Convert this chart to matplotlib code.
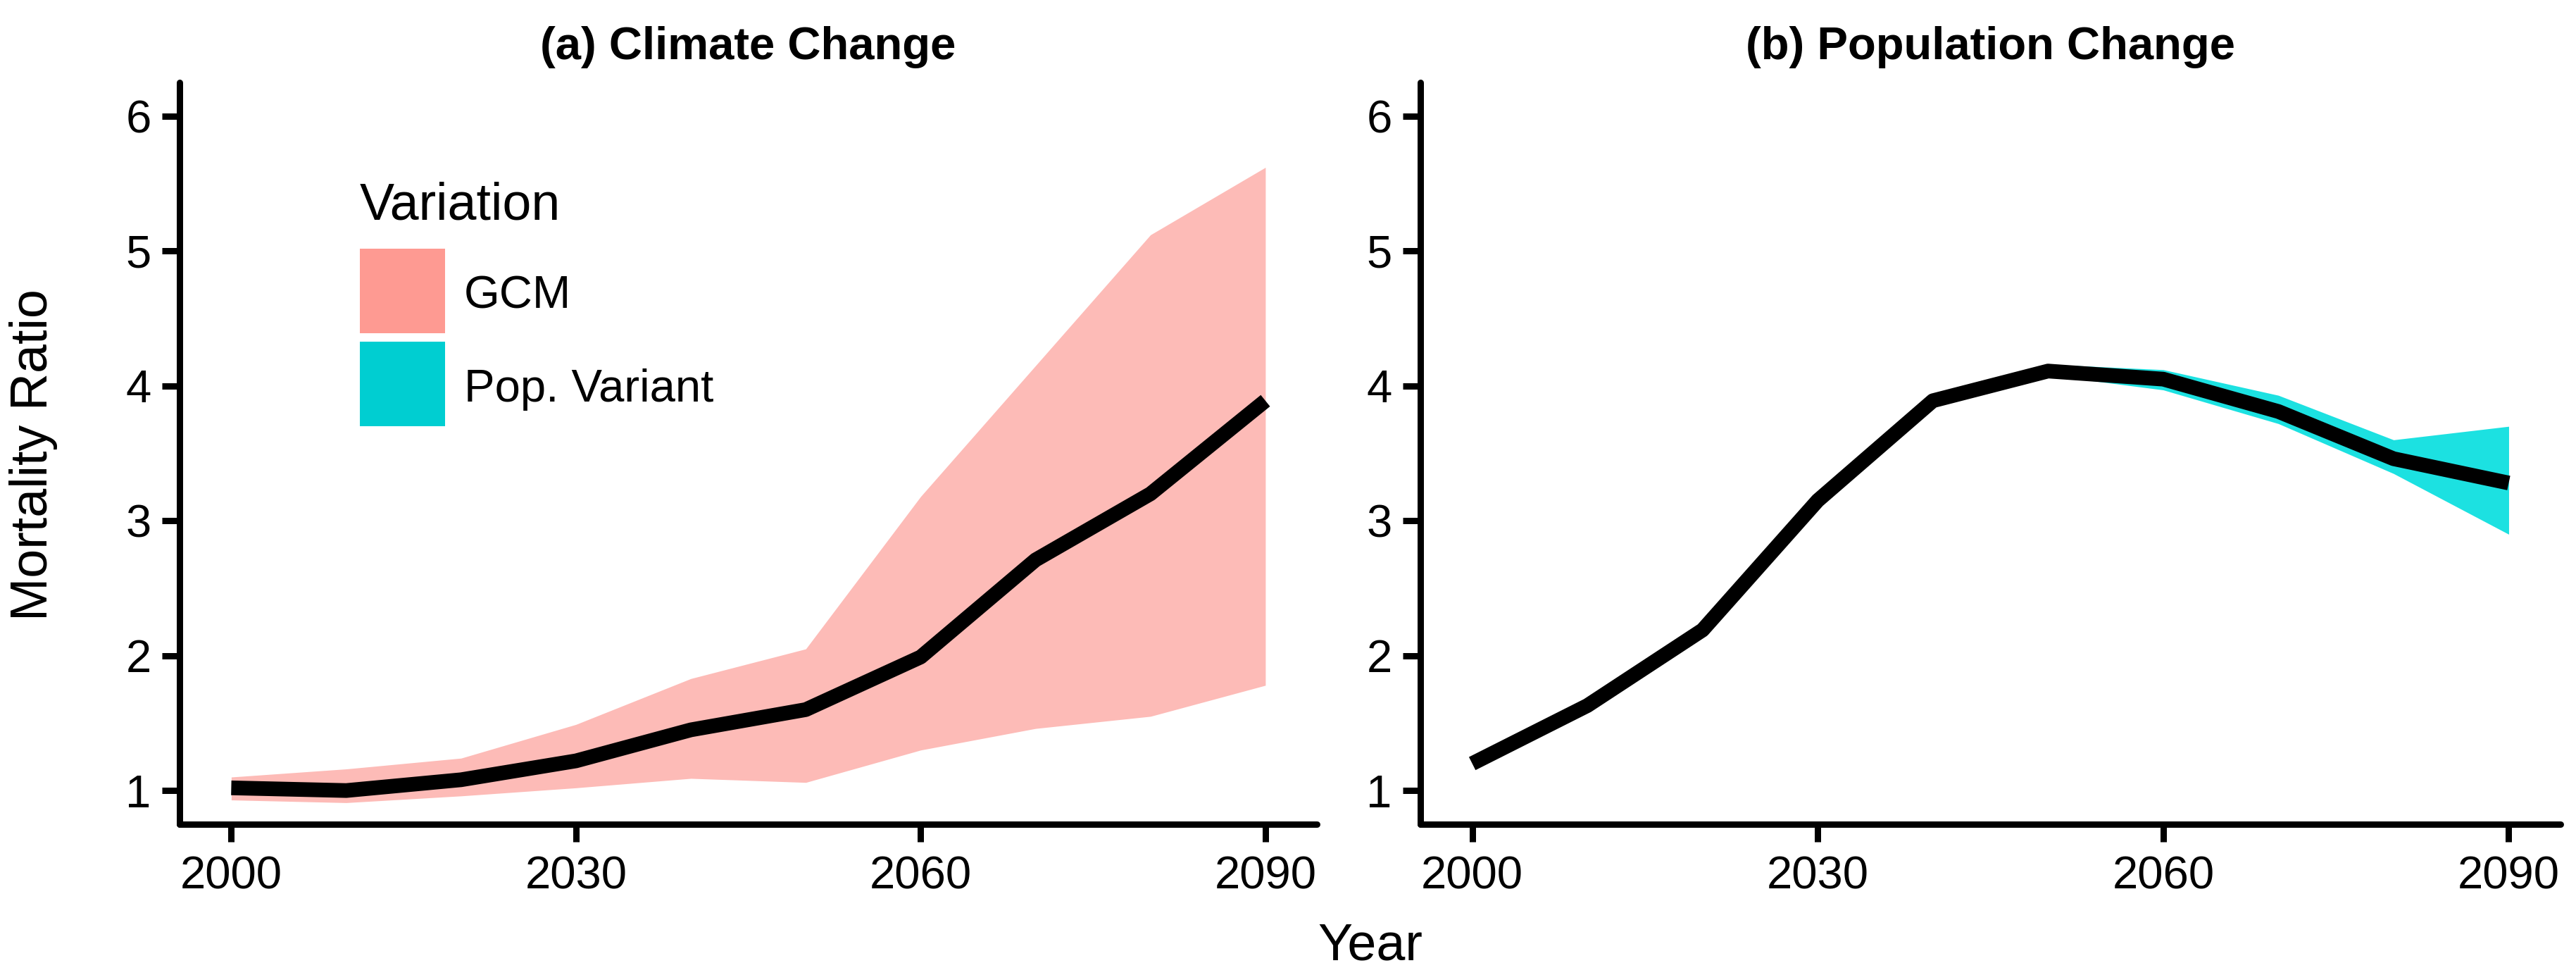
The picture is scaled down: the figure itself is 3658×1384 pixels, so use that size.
import matplotlib
matplotlib.use("Agg")
import matplotlib.pyplot as plt
from matplotlib.patches import Rectangle

plt.rcParams["font.family"] = ["Liberation Sans", "DejaVu Sans"]

# data
years = [2000, 2010, 2020, 2030, 2040, 2050, 2060, 2070, 2080, 2090]

climate_mean = [1.02, 1.00, 1.08, 1.22, 1.45, 1.60, 1.99, 2.71, 3.20, 3.89]
climate_lo = [0.93, 0.91, 0.96, 1.02, 1.09, 1.06, 1.30, 1.46, 1.55, 1.78]
climate_hi = [1.10, 1.16, 1.24, 1.49, 1.83, 2.05, 3.18, 4.15, 5.12, 5.62]

pop_mean = [1.20, 1.63, 2.19, 3.15, 3.89, 4.11, 4.05, 3.81, 3.46, 3.28]
pop_lo = [1.20, 1.63, 2.19, 3.15, 3.89, 4.08, 3.97, 3.72, 3.35, 2.90]
pop_hi = [1.20, 1.63, 2.19, 3.15, 3.89, 4.16, 4.12, 3.93, 3.60, 3.70]

legend_labels = ["GCM", "Pop. Variant"]
legend_colors = ["#FE9A92", "#00CED1"]
ribbon_colors = ["#FDBBB7", "#1CE1E1"]

x_ticks = [2000, 2030, 2060, 2090]
y_ticks = [1, 2, 3, 4, 5, 6]

DPI = 200
fig = plt.figure(figsize=(3658 / DPI, 1384 / DPI), dpi=DPI)

ax1 = fig.add_axes([0.0697, 0.1546, 0.4416, 0.7609])
ax2 = fig.add_axes([0.5514, 0.1546, 0.4426, 0.7609])


def style_axes(ax, title):
    for side in ["top", "right"]:
        ax.spines[side].set_visible(False)
    for side in ["left", "bottom"]:
        ax.spines[side].set_linewidth(3.24)
        ax.spines[side].set_capstyle("round")
    ax.set_xlim(1995.5, 2094.5)
    ax.set_ylim(0.75, 6.25)
    ax.set_xticks(x_ticks)
    ax.set_yticks(y_ticks)
    ax.tick_params(width=3.24, length=9, labelsize=23.5, color="black")
    ax.tick_params(axis="x", pad=7)
    ax.tick_params(axis="y", pad=5.5)
    ax.set_title(title, fontsize=23.5, fontweight="bold", pad=12)


# (a) climate change
ax1.fill_between(years, climate_lo, climate_hi, color=ribbon_colors[0], lw=0)
ax1.plot(years, climate_mean, color="black", lw=7.5,
         solid_capstyle="butt", solid_joinstyle="round")
style_axes(ax1, "(a) Climate Change")

# (b) population change
ax2.fill_between(years, pop_lo, pop_hi, color=ribbon_colors[1], lw=0)
ax2.plot(years, pop_mean, color="black", lw=7.5,
         solid_capstyle="butt", solid_joinstyle="round")
style_axes(ax2, "(b) Population Change")

# legend, drawn by hand inside panel (a)
ax1.text(0.158, 0.815, "Variation", transform=ax1.transAxes,
         fontsize=26.5, ha="left", va="baseline")
key_w, key_h, key_step = 0.0749, 0.114, 0.1254
for i, (lab, col) in enumerate(zip(legend_labels, legend_colors)):
    bottom = 0.6619 - i * key_step
    ax1.add_patch(Rectangle((0.1585, bottom), key_w, key_h, facecolor=col,
                            edgecolor="none", transform=ax1.transAxes,
                            clip_on=False))
    ax1.text(0.2502, bottom + 0.0333, lab, transform=ax1.transAxes,
             fontsize=23.5, ha="left", va="baseline")

fig.text(0.0131, 0.5332, "Mortality Ratio", rotation=90,
         ha="center", va="center", fontsize=26.5)
fig.text(0.532, 0.0152, "Year", ha="center", va="baseline", fontsize=26.5)

fig.savefig("out.png", dpi=DPI)
